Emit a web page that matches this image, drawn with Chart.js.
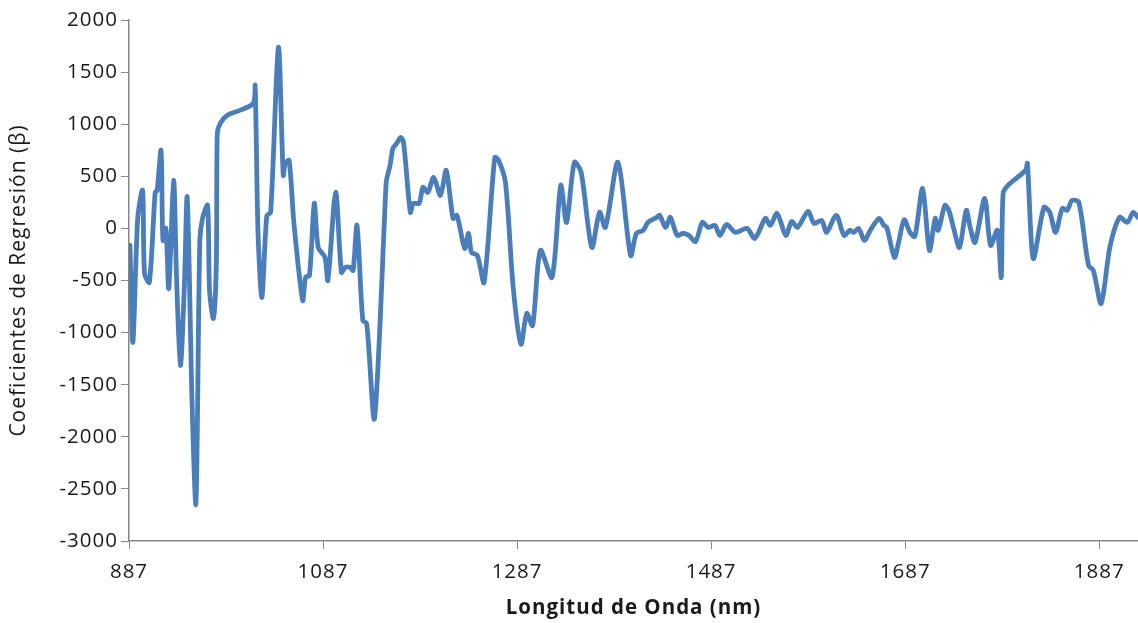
<!DOCTYPE html>
<html>
<head>
<meta charset="utf-8">
<script src="https://cdn.jsdelivr.net/npm/chart.js@4/dist/chart.umd.min.js"></script>
<style>
  html, body { margin: 0; padding: 0; background: #ffffff; }
  #wrap { width: 1138px; height: 623px; }
</style>
</head>
<body>
<div id="wrap"><canvas id="c" width="1138" height="623"></canvas></div>
<script>
// Wavelength (nm) of each sampled point
const wavelengths = [
  888, 891, 896, 901, 903, 908, 914, 916, 920, 922, 925, 928, 933, 936, 940, 944, 947, 952, 956,
  960, 963, 968, 970, 974, 977, 978, 981, 988, 1001, 1015, 1017, 1020, 1024, 1029, 1033, 1041,
  1046, 1048, 1052, 1057, 1066, 1069, 1073, 1078, 1082, 1089, 1092, 1100, 1106, 1110, 1115, 1118,
  1122, 1128, 1132, 1140, 1152, 1153, 1156, 1159, 1163, 1167, 1170, 1177, 1180, 1186, 1190, 1195,
  1201, 1208, 1214, 1221, 1225, 1233, 1237, 1240, 1246, 1253, 1264, 1268, 1275, 1283, 1291, 1297,
  1303, 1311, 1323, 1332, 1338, 1346, 1353, 1364, 1372, 1378, 1391, 1404, 1410, 1417, 1422, 1431,
  1434, 1440, 1445, 1452, 1458, 1464, 1471, 1478, 1484, 1491, 1496, 1503, 1512, 1524, 1532, 1543,
  1548, 1555, 1564, 1570, 1576, 1587, 1593, 1601, 1606, 1616, 1624, 1630, 1634, 1639, 1645, 1651,
  1660, 1665, 1668, 1676, 1680, 1686, 1692, 1697, 1705, 1712, 1718, 1721, 1728, 1732, 1737, 1743,
  1750, 1754, 1759, 1769, 1775, 1782, 1786, 1788, 1793, 1811, 1813, 1819, 1830, 1836, 1842, 1849,
  1854, 1859, 1866, 1876, 1881, 1889, 1898, 1908, 1916, 1922, 1927
];

// Regression coefficient (β) at each wavelength
const coefficients = [
  -160, -1094, 96, 365, -432, -518, 346, 365, 748, -115, 0, -576, 460, -470, -1315, -566, 298, -1680, -2640,
  -115, 106, 221, -595, -864, -336, 912, 1008, 1084, 1132, 1200, 1372, -48, -662, 120, 154, 1737,
  509, 624, 653, 48, -691, -470, -451, 240, -182, -278, -499, 346, -422, -374, -374, -403,
  29, -883, -912, -1823, 432, 490, 600, 768, 816, 873, 825, 154, 240, 240, 394, 346,
  490, 317, 557, 96, 125, -192, -48, -230, -259, -518, 681, 653, 442, -566, -1110, -816,
  -931, -211, -470, 413, 58, 634, 538, -182, 154, 10, 634, -259, -48, -19, 58, 106,
  125, 10, 106, -67, -48, -67, -125, 58, 10, 29, -67, 38, -38, 0, -96, 96,
  29, 144, -67, 67, 10, 163, 48, 77, -38, 125, -67, -19, -38, 0, -115, -19,
  96, 29, 10, -278, -144, 82, -38, -77, 384, -211, 96, -19, 221, 173, 0, -182,
  173, 10, -134, 288, -163, -19, -470, 336, 413, 557, 624, -288, 202, 154, -38, 192,
  173, 269, 250, -355, -403, -720, -182, 106, 58, 154, 106
];

// Axis tick values
const xTicks = [887, 1087, 1287, 1487, 1687, 1887];
const yTicks = [-3000, -2500, -2000, -1500, -1000, -500, 0, 500, 1000, 1500, 2000];

const axisGrey = '#868686';
const textColor = '#1a1a1a';
const fontFamily = '"Open Sans", "Noto Sans", sans-serif';

const points = wavelengths.map((w, i) => ({ x: w, y: coefficients[i] }));

// White page behind the chart, and slightly spaced lettering for all text
const pageStyle = {
  id: 'pageStyle',
  beforeDraw(chart) {
    const ctx = chart.ctx;
    ctx.save();
    ctx.fillStyle = '#ffffff';
    ctx.fillRect(0, 0, chart.width, chart.height);
    ctx.restore();
    ctx.letterSpacing = '1px';
  }
};

new Chart(document.getElementById('c'), {
  type: 'line',
  data: {
    datasets: [{
      data: points,
      borderColor: '#4a7ebb',
      borderWidth: 4.8,
      pointRadius: 0,
      tension: 0.28,
      fill: false,
      borderJoinStyle: 'round',
      borderCapStyle: 'round'
    }]
  },
  options: {
    responsive: false,
    animation: false,
    events: [],
    layout: { padding: { top: 20, right: 0, bottom: 0, left: 0 } },
    plugins: {
      legend: { display: false },
      tooltip: { enabled: false }
    },
    scales: {
      x: {
        type: 'linear',
        min: 887,
        max: 1927,
        afterBuildTicks(scale) {
          scale.ticks = xTicks.map(v => ({ value: v }));
        },
        afterFit(scale) { scale.height = 82; },
        grid: {
          drawOnChartArea: false,
          drawTicks: true,
          tickLength: 8,
          tickColor: axisGrey
        },
        border: { display: true, color: axisGrey, width: 1.5 },
        ticks: {
          color: textColor,
          font: { family: fontFamily, size: 20.5 },
          padding: 11,
          maxRotation: 0,
          autoSkip: false,
          callback: v => String(v)
        },
        title: {
          display: true,
          text: 'Longitud de Onda (nm)',
          color: textColor,
          font: { family: fontFamily, size: 20.5, weight: 'bold' },
          padding: { top: 0, bottom: 3 }
        }
      },
      y: {
        type: 'linear',
        min: -3000,
        max: 2000,
        afterBuildTicks(scale) {
          scale.ticks = yTicks.map(v => ({ value: v }));
        },
        afterFit(scale) { scale.width = 129; },
        grid: {
          drawOnChartArea: false,
          drawTicks: true,
          tickLength: 8,
          tickColor: axisGrey
        },
        border: { display: true, color: axisGrey, width: 1.5 },
        ticks: {
          color: textColor,
          font: { family: fontFamily, size: 20.5 },
          padding: 3,
          autoSkip: false,
          callback: v => String(v)
        },
        title: {
          display: true,
          text: 'Coeficientes de Regresión (β)',
          color: textColor,
          font: { family: fontFamily, size: 21 },
          padding: { top: 6, bottom: 0 }
        }
      }
    }
  },
  plugins: [pageStyle]
});
</script>
</body>
</html>
